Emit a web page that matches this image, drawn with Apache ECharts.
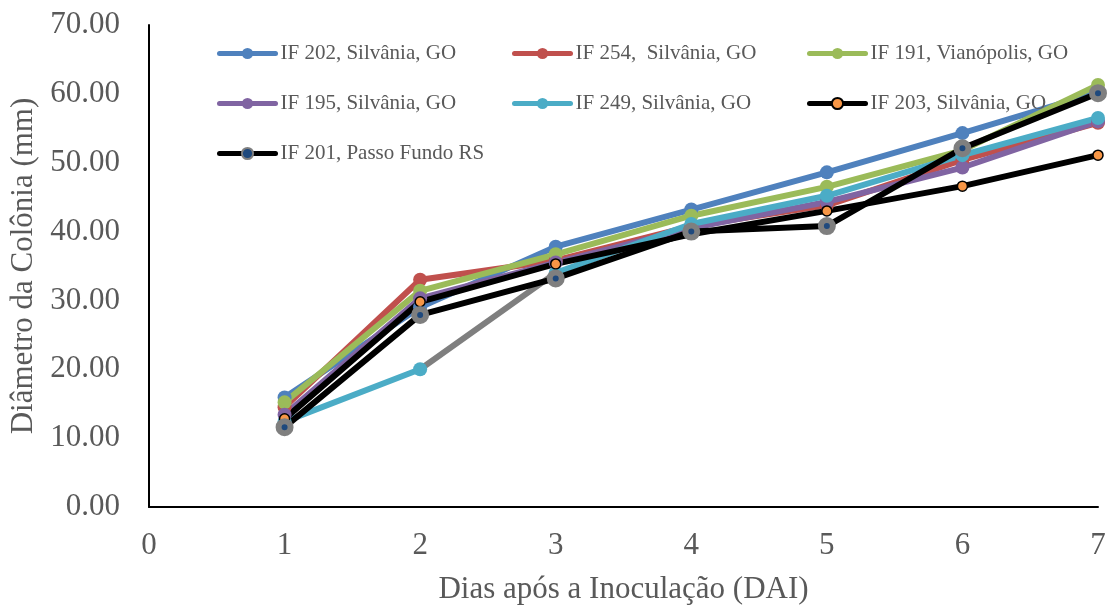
<!DOCTYPE html>
<html>
<head>
<meta charset="utf-8">
<title>Diâmetro da Colônia</title>
<script src="https://cdn.jsdelivr.net/npm/echarts@6/dist/echarts.min.js"></script>
<style>
  html, body { margin: 0; padding: 0; background: #fff; }
  #chart { width: 1108px; height: 605px; }
</style>
</head>
<body>
<div id="chart"></div>
<script>
// dias após a inoculação
var dias = [1, 2, 3, 4, 5, 6, 7];
var yTicks = [0, 10, 20, 30, 40, 50, 60, 70];

var if202 = [15.9, 29.0, 37.8, 43.2, 48.6, 54.3, 60.2];
var if254 = [14.5, 33.0, 35.8, 40.8, 43.8, 50.4, 55.8];
var if191 = [15.2, 31.4, 36.7, 42.3, 46.5, 51.8, 61.3];
var if195 = [13.4, 30.3, 35.5, 40.5, 44.3, 49.3, 56.0];
var if249 = [12.4, 20.0, 34.0, 41.1, 45.2, 51.1, 56.5];
var if203 = [12.8, 29.8, 35.3, 39.6, 43.0, 46.6, 51.1];
var if201 = [11.6, 27.9, 33.2, 40.0, 40.8, 52.1, 60.1];

var nomes = ['IF 202, Silvânia, GO', 'IF 254,  Silvânia, GO', 'IF 191, Vianópolis, GO',
  'IF 195, Silvânia, GO', 'IF 249, Silvânia, GO', 'IF 203, Silvânia, GO', 'IF 201, Passo Fundo RS'];

var font = "'Liberation Serif', 'Times New Roman', serif";
var cinza = '#595959';

function pts(arr) {
  return dias.map(function (d, i) { return [d, arr[i]]; });
}

// trecho 2 -> 3 do IF 249 aparece em cinza no original
var span = dias[dias.length - 1] - dias[0];
var f2 = (dias[1] - dias[0]) / span, f3 = (dias[2] - dias[0]) / span;
var grad249 = new echarts.graphic.LinearGradient(0, 0, 1, 0, [
  { offset: 0, color: '#4BACC6' }, { offset: f2, color: '#4BACC6' },
  { offset: f2, color: '#7F7F7F' }, { offset: f3, color: '#7F7F7F' },
  { offset: f3, color: '#4BACC6' }, { offset: 1, color: '#4BACC6' }
]);

function serie(nome, arr, cor, extra) {
  var s = {
    name: nome, type: 'line', data: pts(arr),
    symbol: 'circle', symbolSize: 14,
    lineStyle: { color: cor, width: 6, cap: 'round', join: 'round' },
    itemStyle: { color: cor },
    emphasis: { disabled: true }
  };
  if (extra) Object.assign(s, extra);
  return s;
}

var series = [
  serie(nomes[0], if202, '#4F81BD'),
  serie(nomes[1], if254, '#C0504D'),
  serie(nomes[2], if191, '#9BBB59'),
  serie(nomes[3], if195, '#8064A2'),
  serie(nomes[4], if249, '#4BACC6', { lineStyle: { color: grad249, width: 6, cap: 'round', join: 'round' } }),
  serie(nomes[5], if203, '#000', {
    symbolSize: 10,
    itemStyle: { color: '#F79646', borderColor: '#000', borderWidth: 1.5 }
  }),
  serie(nomes[6], if201, '#000', {
    symbolSize: 12,
    itemStyle: { color: '#1F497D', borderColor: '#7F7F7F', borderWidth: 6 }
  })
];

function legenda(left, names) {
  return {
    orient: 'vertical', left: left, top: 38, itemGap: 29,
    itemWidth: 56, itemHeight: 14,
    lineStyle: { width: 5, cap: 'round' },
    textStyle: { fontFamily: font, fontSize: 21, color: cinza },
    data: names.map(function (n) {
      if (n === nomes[4]) return { name: n, lineStyle: { color: '#4BACC6', width: 5, cap: 'round' } };
      return n;
    })
  };
}

var chart = echarts.init(document.getElementById('chart'), null, { renderer: 'canvas' });
chart.setOption({
  animation: false,
  backgroundColor: '#fff',
  grid: { left: 149, right: 10, top: 25, bottom: 98, containLabel: false, outerBoundsMode: 'none' },
  legend: [
    legenda(212, [nomes[0], nomes[3], nomes[6]]),
    legenda(507, [nomes[1], nomes[4]]),
    legenda(802, [nomes[2], nomes[5]])
  ],
  xAxis: {
    type: 'value', min: 0, max: 7, interval: 1,
    name: 'Dias após a Inoculação (DAI)', nameLocation: 'middle', nameGap: 67,
    nameTextStyle: { fontFamily: font, fontSize: 31, color: cinza },
    axisLine: { lineStyle: { color: '#000', width: 2 } },
    axisTick: { show: false },
    splitLine: { show: false },
    axisLabel: { fontFamily: font, fontSize: 31, color: cinza, margin: 23 }
  },
  yAxis: {
    type: 'value', min: yTicks[0], max: yTicks[yTicks.length - 1], interval: 10,
    name: 'Diâmetro da Colônia (mm)', nameLocation: 'middle', nameGap: 100,
    nameTextStyle: { fontFamily: font, fontSize: 31, color: cinza },
    axisLine: { show: true, lineStyle: { color: '#000', width: 2 } },
    axisTick: { show: false },
    splitLine: { show: false },
    axisLabel: {
      fontFamily: font, fontSize: 31, color: cinza, margin: 29,
      formatter: function (v) { return v.toFixed(2); }
    }
  },
  series: series
});
</script>
</body>
</html>
